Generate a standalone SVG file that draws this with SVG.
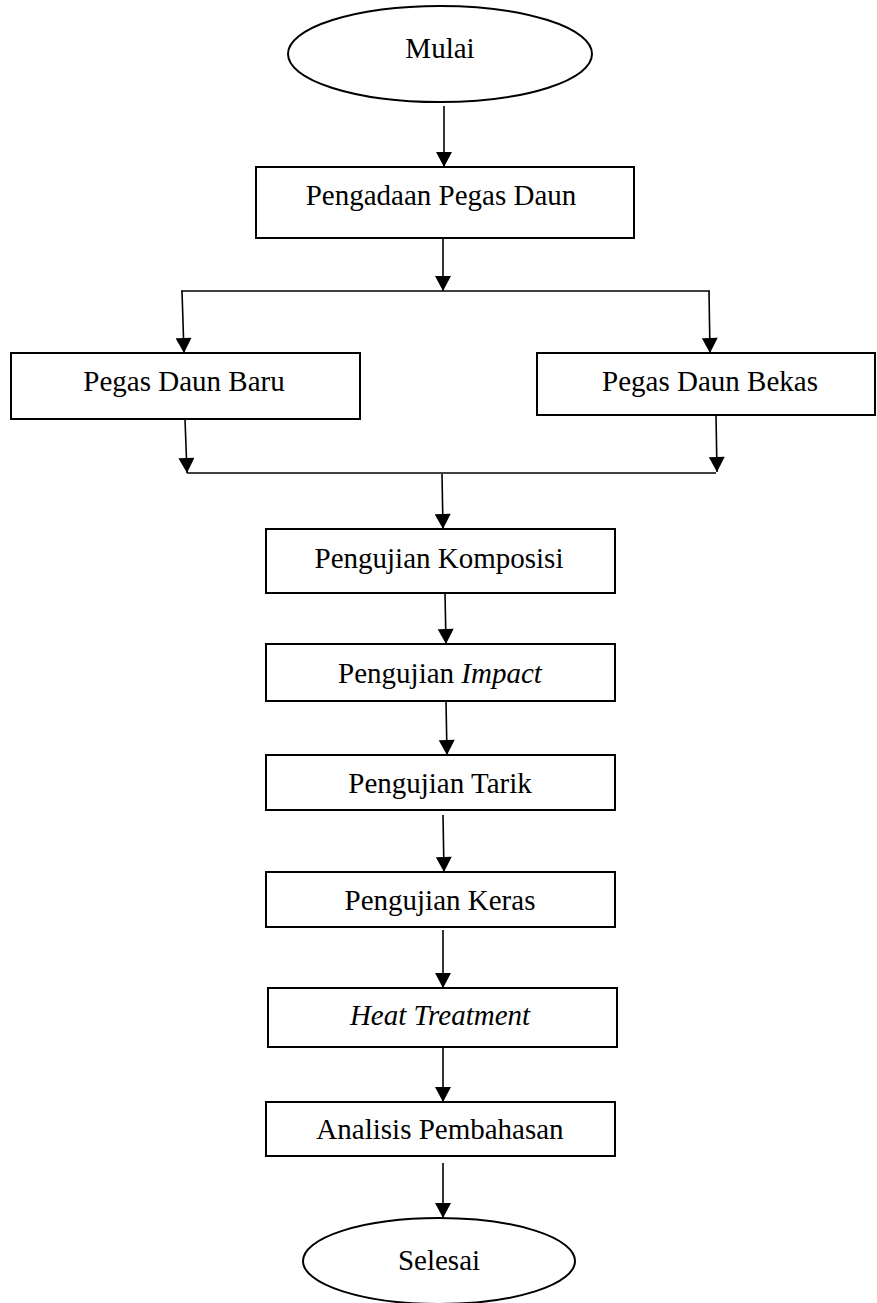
<svg xmlns="http://www.w3.org/2000/svg" width="877" height="1303" viewBox="0 0 877 1303">
<defs>
<style>
.box{fill:#fff;stroke:#000;stroke-width:2}
.t{font-family:"Liberation Serif","Times New Roman",serif;font-size:29px;fill:#000;text-anchor:middle}
.i{font-style:italic}
.c{fill:none;stroke:#000;stroke-width:1.6}
</style>
<marker id="ah" markerUnits="userSpaceOnUse" markerWidth="16" markerHeight="16" refX="15" refY="8" orient="auto" viewBox="0 0 15 16">
<path d="M0,0 L15,8 L0,16 z" fill="#000"/>
</marker>
</defs>
<rect width="877" height="1303" fill="#fff"/>
<g id="connectors">
<line class="c" x1="444" y1="106" x2="444" y2="167" marker-end="url(#ah)"/>
<line class="c" x1="443" y1="236" x2="443" y2="291" marker-end="url(#ah)"/>
<line class="c" x1="181" y1="291" x2="710" y2="291"/>
<line class="c" x1="182" y1="291" x2="184" y2="353" marker-end="url(#ah)"/>
<line class="c" x1="709" y1="291" x2="710" y2="353" marker-end="url(#ah)"/>
<line class="c" x1="185" y1="419" x2="187" y2="473" marker-end="url(#ah)"/>
<line class="c" x1="716" y1="415" x2="717" y2="472" marker-end="url(#ah)"/>
<line class="c" x1="187" y1="473" x2="716" y2="473"/>
<line class="c" x1="442" y1="474" x2="443" y2="529" marker-end="url(#ah)"/>
<line class="c" x1="445" y1="593" x2="446" y2="644" marker-end="url(#ah)"/>
<line class="c" x1="446" y1="701" x2="447" y2="755" marker-end="url(#ah)"/>
<line class="c" x1="443" y1="815" x2="444" y2="872" marker-end="url(#ah)"/>
<line class="c" x1="443" y1="930" x2="443" y2="988" marker-end="url(#ah)"/>
<line class="c" x1="443" y1="1047" x2="443" y2="1102" marker-end="url(#ah)"/>
<line class="c" x1="443" y1="1163" x2="443" y2="1218" marker-end="url(#ah)"/>
</g>
<g id="mulai">
<ellipse class="box" cx="440" cy="54" rx="152" ry="48"/>
<text class="t" x="440" y="58">Mulai</text>
</g>
<g id="pengadaan">
<rect class="box" x="256" y="167" width="378" height="71"/>
<text class="t" x="441" y="205">Pengadaan Pegas Daun</text>
</g>
<g id="baru">
<rect class="box" x="11" y="353" width="349" height="66"/>
<text class="t" x="184" y="391">Pegas Daun Baru</text>
</g>
<g id="bekas">
<rect class="box" x="537" y="353" width="338" height="62"/>
<text class="t" x="710" y="391">Pegas Daun Bekas</text>
</g>
<g id="komposisi">
<rect class="box" x="266" y="529" width="349" height="64"/>
<text class="t" x="439" y="568">Pengujian Komposisi</text>
</g>
<g id="impact">
<rect class="box" x="266" y="644" width="349" height="57"/>
<text class="t" x="440" y="683">Pengujian <tspan class="i">Impact</tspan></text>
</g>
<g id="tarik">
<rect class="box" x="266" y="755" width="349" height="55"/>
<text class="t" x="440" y="793">Pengujian Tarik</text>
</g>
<g id="keras">
<rect class="box" x="266" y="872" width="349" height="55"/>
<text class="t" x="440" y="910">Pengujian Keras</text>
</g>
<g id="heat">
<rect class="box" x="268" y="988" width="349" height="59"/>
<text class="t i" x="440" y="1025">Heat Treatment</text>
</g>
<g id="analisis">
<rect class="box" x="266" y="1102" width="349" height="54"/>
<text class="t" x="440" y="1139">Analisis Pembahasan</text>
</g>
<g id="selesai">
<ellipse class="box" cx="439" cy="1261" rx="136" ry="43"/>
<text class="t" x="439" y="1270">Selesai</text>
</g>
</svg>
